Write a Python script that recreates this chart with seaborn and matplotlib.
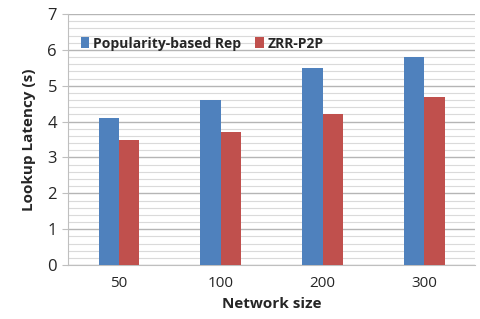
import pandas as pd
import matplotlib
matplotlib.use('Agg')
import matplotlib.pyplot as plt
import seaborn as sns
import numpy as np

# datos
sizes = ['50', '100', '200', '300']
popularidad = [4.1, 4.6, 5.5, 5.8]
zrr = [3.5, 3.7, 4.2, 4.7]
series = ['Popularity-based Rep', 'ZRR-P2P']
colores = ['#4F81BD', '#C0504D']

df = pd.DataFrame({
    'size': sizes * 2,
    'latency': popularidad + zrr,
    'method': [series[0]] * 4 + [series[1]] * 4,
})

sns.set_style('white')
plt.rcParams['font.family'] = ['Open Sans', 'DejaVu Sans']

fig = plt.figure(figsize=(4.8, 3.19), dpi=100)
ax = fig.add_axes([0.142, 0.169, 0.848, 0.787])

sns.barplot(data=df, x='size', y='latency', hue='method', palette=colores,
            width=0.4, dodge=True, saturation=1, linewidth=0, ax=ax, zorder=3)

ax.set_ylim(0, 7)
ax.set_xlim(-0.5, 3.5)
ax.set_yticks(np.arange(0, 8, 1))
ax.set_yticks(np.arange(0, 7, 0.2), minor=True)
ax.grid(axis='y', which='major', color='#B5B5B5', linewidth=1.0, zorder=0)
ax.grid(axis='y', which='minor', color='#DADADA', linewidth=0.8, zorder=0)
ax.set_axisbelow(True)

for s in ['top', 'right']:
    ax.spines[s].set_visible(False)
ax.spines['left'].set_color('#BFBFBF')
ax.spines['bottom'].set_color('#BFBFBF')

ax.tick_params(axis='y', which='major', length=4, color='#BFBFBF', labelsize=12, pad=4, left=True)
ax.tick_params(axis='y', which='minor', length=0)
ax.tick_params(axis='x', length=0, labelsize=11, pad=8)

ax.set_xlabel('Network size', fontsize=11, fontweight='bold', labelpad=4)
ax.set_ylabel('Lookup Latency (s)', fontsize=11, fontweight='bold', labelpad=8)

ax.legend(loc='upper left', bbox_to_anchor=(0.0, 0.96), ncol=2, frameon=False,
          prop={'weight': 'bold', 'size': 10}, handlelength=0.6, handleheight=0.8,
          handletextpad=0.3, columnspacing=1.0)

plt.savefig('out.png', dpi=100)
